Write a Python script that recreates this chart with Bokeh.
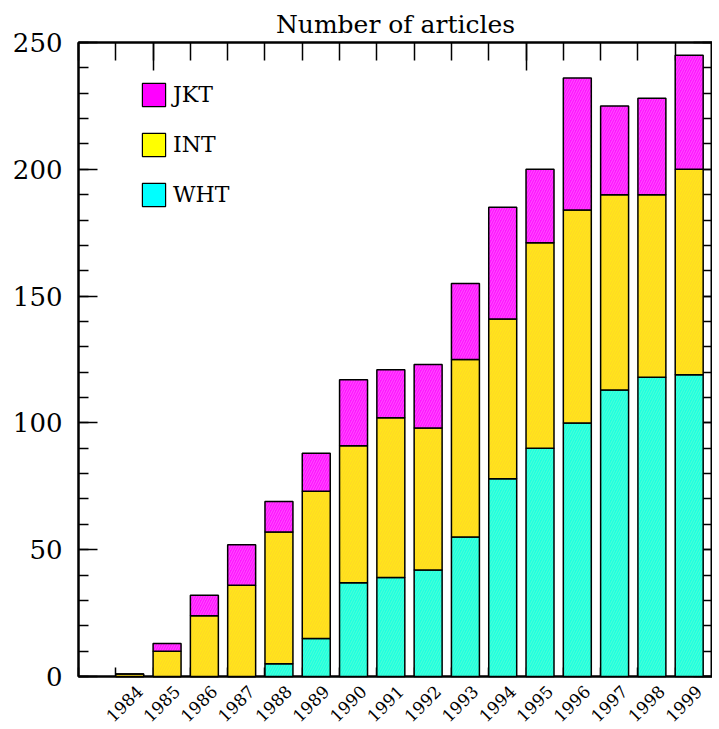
import math
from bokeh.plotting import figure
from bokeh.models import (ColumnDataSource, Range1d, LinearAxis, FixedTicker,
                          SingleIntervalTicker, CustomJSTickFormatter, Legend,
                          LegendItem)
from bokeh.embed import file_html
from bokeh.resources import INLINE

# ---- data ----
years = [1984, 1985, 1986, 1987, 1988, 1989, 1990, 1991,
         1992, 1993, 1994, 1995, 1996, 1997, 1998, 1999]
year_labels = [str(y) for y in years]
series = ["WHT", "INT", "JKT"]
wht = [0, 0, 0, 0, 5, 15, 37, 39, 42, 55, 78, 90, 100, 113, 118, 119]
int_ = [1, 10, 24, 36, 52, 58, 54, 63, 56, 70, 63, 81, 84, 77, 72, 81]
jkt = [0, 3, 8, 16, 12, 15, 26, 19, 25, 30, 44, 29, 52, 35, 38, 45]
title_text = "Number of articles"

# ---- styles ----
FONT = "DejaVu Serif"
bar_fill = {"WHT": "#1effe0", "INT": "#ffe61a", "JKT": "#ff16ff"}
bar_hatch = {"WHT": "#8affc8", "INT": "#ffa848", "JKT": "#ff9cff"}
hatch_alpha = {"WHT": 0.45, "INT": 0.28, "JKT": 0.45}
legend_fill = {"WHT": "#00ffff", "INT": "#ffff00", "JKT": "#ff00ff"}
BAR_W = 0.75
LABEL_SHIFT = 0.27

src = ColumnDataSource(dict(
    x=[y + BAR_W / 2 for y in years],
    WHT=wht, INT=int_, JKT=jkt,
))
label_pos = [y + BAR_W / 2 + LABEL_SHIFT for y in years]

p = figure(frame_width=634, frame_height=634,
           x_range=Range1d(years[0] - 1, years[-1] + 1), y_range=Range1d(0, 250),
           x_axis_type=None, y_axis_type=None,
           output_backend="svg", toolbar_location=None,
           min_border_left=78, min_border_right=0, min_border_top=42,
           min_border_bottom=0)
p.xgrid.visible = False
p.ygrid.visible = False
p.outline_line_color = "black"
p.outline_line_width = 2
p.background_fill_color = "white"
p.border_fill_color = "white"

p.title.text = title_text
p.title.align = "center"
p.title.text_font = FONT
p.title.text_font_size = "25px"
p.title.text_font_style = "normal"
p.title.text_color = "black"
p.title.standoff = 8

empty = CustomJSTickFormatter(code="return ''")

def style_axis(ax):
    ax.axis_line_width = 2
    ax.axis_line_color = "black"
    ax.major_tick_line_color = "black"
    ax.minor_tick_line_color = "black"
    ax.major_tick_line_width = 1.5
    ax.minor_tick_line_width = 1.5
    ax.major_tick_out = 0
    ax.minor_tick_out = 0

# left axis with labels
left = LinearAxis(ticker=SingleIntervalTicker(interval=50, num_minor_ticks=5))
style_axis(left)
left.major_tick_in = 19
left.minor_tick_in = 10
left.major_label_text_font = FONT
left.major_label_text_font_size = "26px"
left.major_label_text_color = "black"
left.major_label_standoff = 16
p.add_layout(left, "left")

# right axis ticks only
right = LinearAxis(ticker=SingleIntervalTicker(interval=50, num_minor_ticks=5),
                   formatter=empty)
style_axis(right)
right.major_tick_in = 19
right.minor_tick_in = 10
right.major_label_standoff = 0
right.major_label_text_font_size = "1px"
p.add_layout(right, "right")

# top axis ticks only
top = LinearAxis(ticker=FixedTicker(ticks=[1985, 1995],
                                    minor_ticks=list(range(years[0] - 1, years[-1] + 2))),
                 formatter=empty)
style_axis(top)
top.major_tick_in = 28
top.minor_tick_in = 18
top.major_label_standoff = 0
top.major_label_text_font_size = "1px"
p.add_layout(top, "above")

# bottom axis: rotated year labels, minor ticks hidden behind bars
bottom = LinearAxis(ticker=FixedTicker(ticks=label_pos,
                                       minor_ticks=list(range(years[0] - 1, years[-1] + 2))),
                    formatter=CustomJSTickFormatter(args=dict(labels=year_labels),
                                                    code="return labels[index]"))
style_axis(bottom)
bottom.major_tick_in = 0
bottom.minor_tick_in = 9
bottom.major_label_standoff = 12
bottom.major_label_orientation = math.pi / 4
bottom.major_label_text_font = FONT
bottom.major_label_text_font_size = "17px"
bottom.major_label_text_color = "black"
p.add_layout(bottom, "below")

# legend renderers (pure colours, zero-height so they stay hidden)
items = []
for s in ["JKT", "INT", "WHT"]:
    dr = p.vbar(x="x", top=0, bottom=0, width=BAR_W, source=src,
                fill_color=legend_fill[s], line_color="black", line_width=1.2)
    items.append(LegendItem(label=s, renderers=[dr]))

# stacked bars
rs = p.vbar_stack(series, x="x", width=BAR_W, source=src,
                  line_color="black", line_width=1.5)
for r, s in zip(rs, series):
    g = r.glyph
    g.fill_color = bar_fill[s]
    g.hatch_pattern = "/"
    g.hatch_color = bar_hatch[s]
    g.hatch_alpha = hatch_alpha[s]
    g.hatch_scale = 5
    g.hatch_weight = 1
    r.level = "annotation"

legend = Legend(items=items, location=(61, 467), glyph_width=29, glyph_height=29,
                spacing=21, padding=0, margin=0, border_line_color=None,
                background_fill_alpha=0, label_standoff=5,
                label_text_font=FONT, label_text_font_size="22px",
                label_text_color="black")
p.add_layout(legend)

open("out.html", "w").write(file_html(p, INLINE))
